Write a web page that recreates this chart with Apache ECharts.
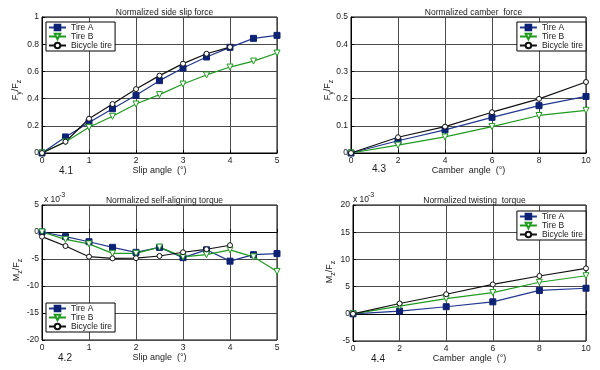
<!DOCTYPE html>
<html><head><meta charset="utf-8">
<script src="https://cdn.jsdelivr.net/npm/echarts@6/dist/echarts.min.js"></script>
<style>html,body{margin:0;padding:0;background:#fff}#c{width:600px;height:370px}</style>
</head><body><div id="c"></div>
<script>
// ---- data ----
const seriesNames = ['Tire A', 'Tire B', 'Bicycle tire'];
const titles = ['Normalized side slip force', 'Normalized camber  force', 'Normalized self-aligning torque', 'Normalized twisting  torque'];
const xNames = ['Slip angle  (\u00b0)', 'Camber  angle  (\u00b0)', 'Slip angle  (\u00b0)', 'Camber  angle  (\u00b0)'];
const panelTags = ['4.1', '4.3', '4.2', '4.4'];

const slipX = [0, 0.5, 1, 1.5, 2, 2.5, 3, 3.5, 4, 4.5, 5];
const camberX = [0, 2, 4, 6, 8, 10];

// 4.1 normalized side slip force
const sideA = [0, 0.118, 0.225, 0.326, 0.424, 0.532, 0.625, 0.706, 0.777, 0.843, 0.865];
const sideB = [0, 0.081, 0.189, 0.270, 0.360, 0.429, 0.507, 0.574, 0.632, 0.676, 0.735];
const sideC = [0, 0.083, 0.252, 0.360, 0.470, 0.569, 0.657, 0.730, 0.779];

// 4.3 normalized camber force
const camA = [0, 0.045, 0.085, 0.131, 0.174, 0.208];
const camB = [0, 0.029, 0.059, 0.097, 0.138, 0.157];
const camC = [0, 0.058, 0.097, 0.150, 0.199, 0.261];

// 4.2 normalized self-aligning torque (x 10^-3)
const satA = [0, -0.86, -1.8, -2.84, -3.77, -2.85, -4.75, -3.3, -5.4, -4.2, -4.0];
const satB = [0, -1.36, -2.2, -3.95, -3.95, -2.8, -4.6, -4.2, -3.3, -4.6, -7.3];
const satC = [-0.86, -2.6, -4.57, -4.88, -4.85, -4.44, -3.75, -3.2, -2.45];

// 4.4 normalized twisting torque (x 10^-3)
const twA = [0, 0.5, 1.3, 2.2, 4.3, 4.7];
const twB = [0, 1.4, 2.8, 3.9, 5.8, 7.0];
const twC = [0, 1.9, 3.6, 5.4, 6.95, 8.35];

// axis ranges / ticks
const xRanges = [[0, 5, 1], [0, 10, 2], [0, 5, 1], [0, 10, 2]];
const yRanges = [[0, 1, 0.2], [0, 0.5, 0.1], [-20, 5, 5], [-5, 20, 5]];

// ---- chart ----
const chart = echarts.init(document.getElementById('c'), null, {renderer: 'canvas'});
const FONT = '"Liberation Sans", Arial, sans-serif';
const colA = '#22388f', fillA = '#0d2275', colB = '#1f9b1f', colC = '#111111';
const TXT = '#1a1a1a';
function pairs(xs, ys) { return ys.map((y, i) => [xs[i], y]); }

const grids = [
  {left: 42, top: 17, width: 235, height: 136},
  {left: 351, top: 17, width: 235, height: 136},
  {left: 42, top: 205, width: 235, height: 135},
  {left: 353, top: 205, width: 233, height: 136}
];
const legendPos = [
  {left: 46, top: 22},
  {right: 14, top: 22},
  {left: 46, top: 303},
  {right: 14, top: 211}
];
const dataSets = [
  [slipX, sideA, sideB, sideC],
  [camberX, camA, camB, camC],
  [slipX, satA, satB, satC],
  [camberX, twA, twB, twC]
];

const xAxis = [], yAxis = [], series = [], legend = [], title = [];
grids.forEach((g, i) => {
  g.show = true; g.borderColor = '#000'; g.borderWidth = 1; g.backgroundColor = '#fff';
  xAxis.push({
    type: 'value', gridIndex: i, min: xRanges[i][0], max: xRanges[i][1], interval: xRanges[i][2],
    name: xNames[i], nameLocation: 'middle', nameGap: 10,
    nameTextStyle: {fontSize: 9, fontFamily: FONT, color: TXT},
    axisLine: {show: true, lineStyle: {color: '#000', width: 1}},
    axisTick: {show: true, inside: true, length: 3, lineStyle: {color: '#000'}},
    axisLabel: {fontSize: 8.5, fontFamily: FONT, color: TXT, margin: 3},
    splitLine: {show: true, lineStyle: {color: '#4a4a4a', width: 1}}
  });
  yAxis.push({
    type: 'value', gridIndex: i, min: yRanges[i][0], max: yRanges[i][1], interval: yRanges[i][2],
    axisLine: {show: true, lineStyle: {color: '#000', width: 1}},
    axisTick: {show: true, inside: true, length: 3, lineStyle: {color: '#000'}},
    axisLabel: {fontSize: 8.5, fontFamily: FONT, color: TXT, margin: 3},
    splitLine: {show: true, lineStyle: {color: '#4a4a4a', width: 1}}
  });
  const d = dataSets[i];
  series.push({
    type: 'line', name: seriesNames[0], xAxisIndex: i, yAxisIndex: i, data: pairs(d[0], d[1]),
    symbol: 'rect', symbolSize: 6, showAllSymbol: true,
    lineStyle: {color: colA, width: 1.2}, itemStyle: {color: fillA, borderColor: fillA, borderWidth: 1}
  });
  series.push({
    type: 'line', name: seriesNames[1], xAxisIndex: i, yAxisIndex: i, data: pairs(d[0], d[2]),
    symbol: 'path://M0,0L10,0L5,9Z', symbolSize: [6, 6], showAllSymbol: true,
    lineStyle: {color: colB, width: 1.2}, itemStyle: {color: '#ffffff', borderColor: colB, borderWidth: 1}
  });
  series.push({
    type: 'line', name: seriesNames[2], xAxisIndex: i, yAxisIndex: i, data: pairs(d[0], d[3]),
    symbol: 'circle', symbolSize: 5, showAllSymbol: true,
    lineStyle: {color: colC, width: 1.2}, itemStyle: {color: '#ffffff', borderColor: colC, borderWidth: 1}
  });
  legend.push(Object.assign({
    orient: 'vertical', data: seriesNames, selectedMode: false,
    itemWidth: 17, itemHeight: 7, itemGap: 0, itemTextGap: 3,
    padding: [1, 3, 1, 2], borderColor: '#000', borderWidth: 1, backgroundColor: '#fff',
    textStyle: {fontSize: 8.5, fontFamily: FONT, color: TXT}
  }, legendPos[i]));
  title.push({
    text: titles[i], left: g.left + g.width / 2, top: g.top - 14, textAlign: 'center',
    textStyle: {fontSize: 8.5, fontWeight: 'normal', fontFamily: FONT, color: TXT}
  });
});

const richY = {
  a: {fontSize: 9, fontFamily: FONT, color: TXT, lineHeight: 14, verticalAlign: 'middle'},
  s: {fontSize: 7, fontFamily: FONT, color: TXT, lineHeight: 14, verticalAlign: 'bottom'}
};
const yNames = [
  {x: 16, y: 90, t: '{a|F}{s|y}{a|/F}{s|z}'},
  {x: 328, y: 90, t: '{a|F}{s|y}{a|/F}{s|z}'},
  {x: 17, y: 270, t: '{a|M}{s|z}{a|/F}{s|z}'},
  {x: 330, y: 272, t: '{a|M}{s|z}{a|/F}{s|z}'}
];
const graphic = [];
yNames.forEach(n => graphic.push({
  type: 'text', x: n.x, y: n.y, rotation: Math.PI / 2,
  style: {text: n.t, rich: richY, align: 'center', verticalAlign: 'middle', fill: TXT}
}));
const tagPos = [[66, 171], [379, 169], [65, 358], [378, 359]];
tagPos.forEach((p, i) => graphic.push({
  type: 'text', x: p[0], y: p[1],
  style: {text: panelTags[i], fontSize: 10, fontFamily: FONT, fill: TXT, align: 'center', verticalAlign: 'middle'}
}));
[[44, 200], [353, 200]].forEach(p => {
  graphic.push({type: 'text', x: p[0], y: p[1],
    style: {text: 'x 10', fontSize: 8.5, fontFamily: FONT, fill: TXT, align: 'left', verticalAlign: 'middle'}});
  graphic.push({type: 'text', x: p[0] + 15, y: p[1] - 5,
    style: {text: '-3', fontSize: 7, fontFamily: FONT, fill: TXT, align: 'left', verticalAlign: 'middle'}});
});

chart.setOption({
  animation: false,
  backgroundColor: '#fff',
  title: title, grid: grids, xAxis: xAxis, yAxis: yAxis,
  legend: legend, series: series, graphic: graphic
});
</script>
</body></html>
